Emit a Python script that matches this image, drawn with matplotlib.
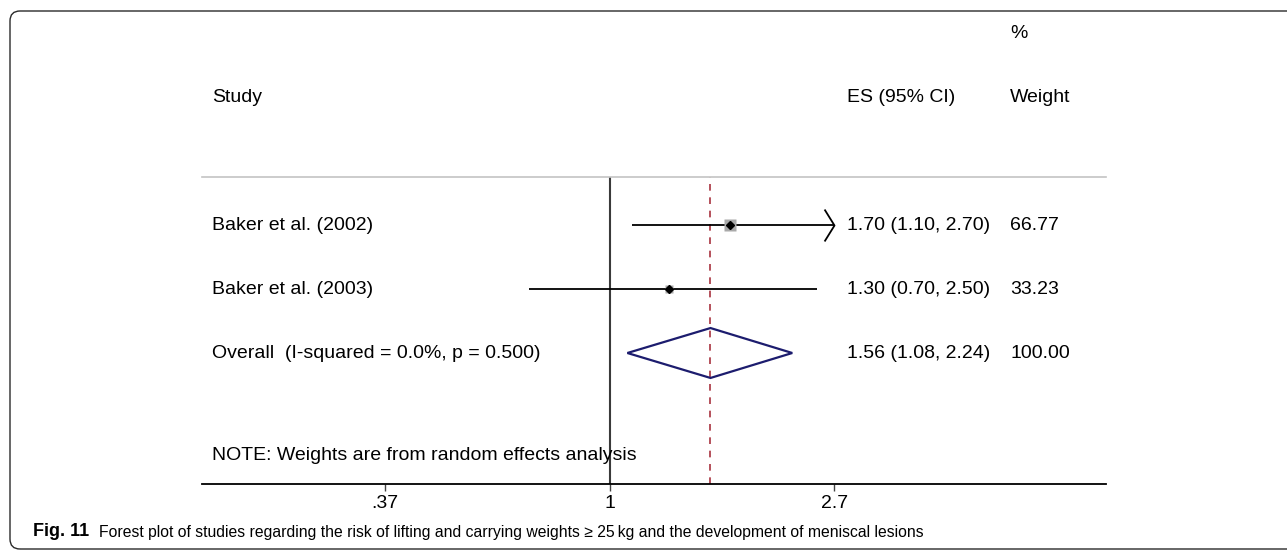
import numpy as np
import matplotlib
matplotlib.use("Agg")
import matplotlib.pyplot as plt
from matplotlib.path import Path
from matplotlib.patches import FancyBboxPatch, Polygon
from matplotlib.transforms import IdentityTransform, blended_transform_factory

# ---- data -------------------------------------------------------------
studies = ["Baker et al. (2002)", "Baker et al. (2003)"]
es = [1.70, 1.30]
ci_low = [1.10, 0.70]
ci_high = [2.70, 2.50]
weights = [66.77, 33.23]

overall_label = "Overall  (I-squared = 0.0%, p = 0.500)"
overall_es = 1.56
overall_low = 1.08
overall_high = 2.24
overall_weight = 100.00

note_text = "NOTE: Weights are from random effects analysis"
tick_values = [0.37, 1.0, 2.7]
tick_labels = [".37", "1", "2.7"]
axis_max = 2.70  # upper display limit for CI lines (arrow beyond)

caption_bold = "Fig. 11"
caption_text = ("Forest plot of studies regarding the risk of lifting and carrying "
                "weights \u2265 25\u2009kg and the development of meniscal lesions")

# ---- figure -------------------------------------------------------------
W, H = 1287, 550
fig = plt.figure(figsize=(W / 100, H / 100), dpi=100)
plt.rcParams["font.family"] = ["Liberation Sans", "DejaVu Sans"]


def fx(px):
    return px / W


def fy(py):
    return 1 - py / H


left_px, right_px, top_px, bottom_px = 202, 1106, 177, 484
ax = fig.add_axes([fx(left_px), fy(bottom_px), fx(right_px - left_px),
                   (bottom_px - top_px) / H])

# log x-scale: 1 at x=610 px, 226 px per natural-log unit
scale = 226.0
ax.set_xscale("log")
ax.set_xlim(np.exp((left_px - 610) / scale), np.exp((right_px - 610) / scale))
# rows: first row at 225 px, spacing 64 px
row0, row_step = 225, 64
ax.set_ylim((bottom_px - row0) / row_step, (top_px - row0) / row_step)

for s in ["left", "right"]:
    ax.spines[s].set_visible(False)
ax.spines["top"].set_color("#c4c4c4")
ax.spines["top"].set_linewidth(1.2)
ax.spines["bottom"].set_color("black")
ax.spines["bottom"].set_linewidth(1.3)
ax.set_yticks([])
ax.set_xticks(tick_values)
ax.set_xticklabels(tick_labels)
ax.xaxis.set_minor_locator(matplotlib.ticker.NullLocator())
ax.tick_params(axis="x", length=5, width=1, labelsize=14, pad=3, color="#444444")

# null line and overall effect line
ax.axvline(1.0, color="#3a3a3a", lw=1.5, zorder=1)
ax.axvline(overall_es, color="#a8323e", lw=1.2, ls=(0, (4, 4)), zorder=1)

# chevron marker for truncated confidence intervals
chevron = Path([(-0.62, 1.0), (0.0, 0.0), (-0.62, -1.0)],
               [Path.MOVETO, Path.LINETO, Path.LINETO])

box_ref = 9.0  # marker side (points) for the largest weight
for i, (e, lo, hi, w) in enumerate(zip(es, ci_low, ci_high, weights)):
    hi_draw = min(hi, axis_max)
    ax.plot([lo, hi_draw], [i, i], color="black", lw=1.3, zorder=2,
            solid_capstyle="butt")
    if hi >= axis_max:
        ax.plot([hi_draw], [i], marker=chevron, ms=23, mfc="none",
                mec="black", mew=1.3, zorder=3)
    ax.plot([e], [i], marker="s", ms=box_ref * np.sqrt(w / max(weights)),
            color="#a9a9a9", mec="none", zorder=3)
    ax.plot([e], [i], marker="D", ms=3.8, color="black", zorder=4)

# overall diamond
yo = len(studies)
diamond = Polygon([[overall_low, yo], [overall_es, yo - 0.39],
                   [overall_high, yo], [overall_es, yo + 0.39]],
                  closed=True, fill=False, edgecolor="#1c1c6e", lw=1.6, zorder=3)
ax.add_patch(diamond)

# text columns
trans = blended_transform_factory(ax.transAxes, ax.transData)
col_study = (212 - left_px) / (right_px - left_px)
col_es = (847 - left_px) / (right_px - left_px)
col_w = (1010 - left_px) / (right_px - left_px)
fs = 14

labels = studies + [overall_label]
es_all = es + [overall_es]
lo_all = ci_low + [overall_low]
hi_all = ci_high + [overall_high]
w_all = weights + [overall_weight]
for i in range(len(labels)):
    ax.text(col_study, i, labels[i], transform=trans, ha="left", va="center",
            fontsize=fs)
    ax.text(col_es, i, f"{es_all[i]:.2f} ({lo_all[i]:.2f}, {hi_all[i]:.2f})",
            transform=trans, ha="left", va="center", fontsize=fs)
    ax.text(col_w, i, f"{w_all[i]:.2f}", transform=trans, ha="left",
            va="center", fontsize=fs)

ax.text(col_study, (455 - row0) / row_step, note_text, transform=trans,
        ha="left", va="center", fontsize=fs)

# headers
fig.text(fx(212), fy(98), "Study", ha="left", va="center", fontsize=fs)
fig.text(fx(847), fy(98), "ES (95% CI)", ha="left", va="center", fontsize=fs)
fig.text(fx(1010), fy(98), "Weight", ha="left", va="center", fontsize=fs)
fig.text(fx(1010), fy(34), "%", ha="left", va="center", fontsize=fs)

# caption
cap_font = ["Liberation Sans", "DejaVu Sans"]
t1 = fig.text(fx(33), fy(532), caption_bold, ha="left", va="center",
              fontsize=13, fontweight="bold", family=cap_font)
cap = matplotlib.text.Annotation(
    caption_text, xy=(1, 0), xycoords=t1, xytext=(7, 0),
    textcoords="offset points", ha="left", va="bottom", fontsize=11.3,
    family=cap_font)
cap.set_figure(fig)
fig.texts.append(cap)

# page frame
frame = FancyBboxPatch((10, 1), 1400, 538,
                       boxstyle="round,pad=0,rounding_size=10",
                       transform=IdentityTransform(), fill=False,
                       edgecolor="#2a2a2a", lw=1.0)
fig.patches.append(frame)

fig.savefig("out.png", dpi=100)
